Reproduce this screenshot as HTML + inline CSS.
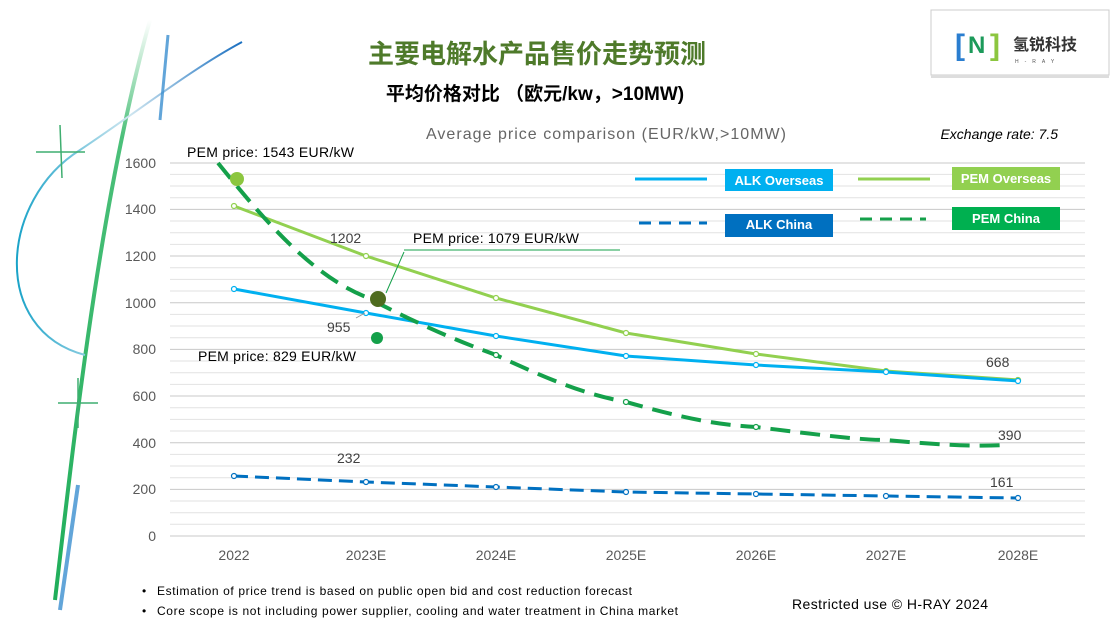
<!DOCTYPE html>
<html><head><meta charset="utf-8"><style>
body{margin:0;width:1111px;height:624px;background:#fff;overflow:hidden;font-family:"Liberation Sans","Noto Sans CJK SC",sans-serif}
</style></head><body>
<svg width="1111" height="624" viewBox="0 0 1111 624" xmlns="http://www.w3.org/2000/svg" font-family="Liberation Sans, Noto Sans CJK SC, sans-serif">
<defs>
<linearGradient id="g1" x1="0" y1="1" x2="0" y2="0"><stop offset="0" stop-color="#1fae5a"/><stop offset="0.8" stop-color="#4cc07a"/><stop offset="1" stop-color="#fff"/></linearGradient>
<linearGradient id="g2" x1="0" y1="0" x2="1" y2="0"><stop offset="0" stop-color="#1aa3c8"/><stop offset="0.5" stop-color="#cfe6f0"/><stop offset="1" stop-color="#1a6fc0"/></linearGradient>
</defs>
<!-- decoration -->
<path d="M55 600 C75 430 100 200 150 20" stroke="url(#g1)" stroke-width="4" fill="none"/>
<path d="M85 355 C-10 330 0 200 80 150 C140 110 190 70 242 42" stroke="url(#g2)" stroke-width="2" fill="none"/>
<path d="M160 120 L168 35" stroke="#3b8fd0" stroke-width="3" fill="none" opacity="0.8"/>
<path d="M78 485 L60 610" stroke="#3b8fd0" stroke-width="4" fill="none" opacity="0.8"/>
<path d="M60 125 L62 178 M36 152 L85 152" stroke="#3fae70" stroke-width="1.5"/>
<path d="M78 378 L78 428 M58 403 L98 403" stroke="#3fae70" stroke-width="1.5"/>
<!-- titles -->
<text x="537" y="63" text-anchor="middle" font-size="26" font-weight="bold" fill="#4e7a2a">主要电解水产品售价走势预测</text>
<text x="535" y="100" text-anchor="middle" font-size="19" font-weight="bold" fill="#000">平均价格对比 （欧元/kw，&gt;10MW)</text>
<text x="426" y="139" font-size="16" fill="#666" textLength="360">Average price comparison (EUR/kW,&gt;10MW)</text>
<text x="1058" y="139" text-anchor="end" font-size="14" font-style="italic" fill="#000">Exchange rate: 7.5</text>
<!-- logo -->
<rect x="931" y="10" width="178" height="65" fill="#fff" stroke="#ccc"/>
<rect x="931" y="75" width="178" height="3" fill="#ddd"/>
<text x="955" y="55" font-size="30" font-weight="bold" fill="#2a7ed0">[</text>
<text x="968" y="53" font-size="24" font-weight="bold" fill="#1c9a5a">N</text>
<text x="990" y="55" font-size="30" font-weight="bold" fill="#8cc63f">]</text>
<text x="1013" y="50" font-size="16" fill="#333" font-weight="bold">氢锐科技</text>
<text x="1015" y="63" font-size="5" fill="#555" letter-spacing="6">H-RAY</text>
<!-- grid -->
<g stroke="#e2e2e2" stroke-width="1">
<line x1="170" x2="1085" y1="524.3" y2="524.3"/><line x1="170" x2="1085" y1="512.7" y2="512.7"/><line x1="170" x2="1085" y1="501" y2="501"/><line x1="170" x2="1085" y1="477.7" y2="477.7"/><line x1="170" x2="1085" y1="466" y2="466"/><line x1="170" x2="1085" y1="454.4" y2="454.4"/><line x1="170" x2="1085" y1="431" y2="431"/><line x1="170" x2="1085" y1="419.4" y2="419.4"/><line x1="170" x2="1085" y1="407.7" y2="407.7"/><line x1="170" x2="1085" y1="384.4" y2="384.4"/><line x1="170" x2="1085" y1="372.7" y2="372.7"/><line x1="170" x2="1085" y1="361" y2="361"/><line x1="170" x2="1085" y1="337.7" y2="337.7"/><line x1="170" x2="1085" y1="326" y2="326"/><line x1="170" x2="1085" y1="314.4" y2="314.4"/><line x1="170" x2="1085" y1="291" y2="291"/><line x1="170" x2="1085" y1="279.4" y2="279.4"/><line x1="170" x2="1085" y1="267.7" y2="267.7"/><line x1="170" x2="1085" y1="244.4" y2="244.4"/><line x1="170" x2="1085" y1="232.7" y2="232.7"/><line x1="170" x2="1085" y1="221" y2="221"/><line x1="170" x2="1085" y1="197.7" y2="197.7"/><line x1="170" x2="1085" y1="186" y2="186"/><line x1="170" x2="1085" y1="174.4" y2="174.4"/>
</g>
<g stroke="#c8c8c8" stroke-width="1">
<line x1="170" x2="1085" y1="536" y2="536"/><line x1="170" x2="1085" y1="489.4" y2="489.4"/><line x1="170" x2="1085" y1="442.7" y2="442.7"/><line x1="170" x2="1085" y1="396" y2="396"/><line x1="170" x2="1085" y1="349.4" y2="349.4"/><line x1="170" x2="1085" y1="302.7" y2="302.7"/><line x1="170" x2="1085" y1="256" y2="256"/><line x1="170" x2="1085" y1="209.4" y2="209.4"/><line x1="170" x2="1085" y1="163" y2="163"/>
</g>
<g font-size="14" fill="#595959" text-anchor="end">
<text x="156" y="541">0</text><text x="156" y="494">200</text><text x="156" y="448">400</text><text x="156" y="401">600</text><text x="156" y="354">800</text><text x="156" y="308">1000</text><text x="156" y="261">1200</text><text x="156" y="214">1400</text><text x="156" y="168">1600</text>
</g>
<g font-size="14" fill="#595959" text-anchor="middle">
<text x="234" y="560">2022</text><text x="366" y="560">2023E</text><text x="496" y="560">2024E</text><text x="626" y="560">2025E</text><text x="756" y="560">2026E</text><text x="886" y="560">2027E</text><text x="1018" y="560">2028E</text>
</g>
<!-- series -->
<polyline points="234,206 366,256 496,298 626,333 756,354 886,371 1018,380" fill="none" stroke="#92d050" stroke-width="3"/>
<polyline points="234,289 366,313 496,336 626,356 756,365 886,372 1018,381" fill="none" stroke="#00b0f0" stroke-width="3"/>
<polyline points="234,476 366,482 496,487 626,492 756,494 886,496 1018,498" fill="none" stroke="#0070c0" stroke-width="3" stroke-dasharray="14,7"/>
<path d="M218 163 C260 215 310 275 366 297 C420 325 455 340 496 355 C560 385 590 395 626 402 C690 420 720 425 756 427 C820 435 860 440 886 440 C930 444 970 447 1005 445" fill="none" stroke="#14a04a" stroke-width="4" stroke-dasharray="20,10"/>
<g fill="#fff" stroke-width="1.2">
<g stroke="#92d050"><circle cx="234" cy="206" r="2.5"/><circle cx="366" cy="256" r="2.5"/><circle cx="496" cy="298" r="2.5"/><circle cx="626" cy="333" r="2.5"/><circle cx="756" cy="354" r="2.5"/><circle cx="886" cy="371" r="2.5"/><circle cx="1018" cy="380" r="2.5"/></g>
<g stroke="#00b0f0"><circle cx="234" cy="289" r="2.5"/><circle cx="366" cy="313" r="2.5"/><circle cx="496" cy="336" r="2.5"/><circle cx="626" cy="356" r="2.5"/><circle cx="756" cy="365" r="2.5"/><circle cx="886" cy="372" r="2.5"/><circle cx="1018" cy="381" r="2.5"/></g>
<g stroke="#0070c0"><circle cx="234" cy="476" r="2.5"/><circle cx="366" cy="482" r="2.5"/><circle cx="496" cy="487" r="2.5"/><circle cx="626" cy="492" r="2.5"/><circle cx="756" cy="494" r="2.5"/><circle cx="886" cy="496" r="2.5"/><circle cx="1018" cy="498" r="2.5"/></g>
<g stroke="#14a04a"><circle cx="496" cy="355" r="2.5"/><circle cx="626" cy="402" r="2.5"/><circle cx="756" cy="427" r="2.5"/></g>
</g>
<circle cx="237" cy="179" r="7" fill="#8cc63f"/>
<circle cx="378" cy="299" r="8" fill="#4e6b1e"/>
<circle cx="377" cy="338" r="6" fill="#14a04a"/>
<line x1="404" y1="252" x2="386" y2="293" stroke="#14a04a" stroke-width="1"/>
<polyline points="404,250 620,250" stroke="#14a04a" stroke-width="1" fill="none"/>
<line x1="356" y1="318" x2="365" y2="313" stroke="#999"/>
<g font-size="14" fill="#000">
<text x="187" y="157" textLength="167">PEM price: 1543 EUR/kW</text>
<text x="413" y="243" textLength="166">PEM price: 1079 EUR/kW</text>
<text x="198" y="361" textLength="158">PEM price: 829 EUR/kW</text>
</g>
<g font-size="14" fill="#404040">
<text x="330" y="243">1202</text><text x="327" y="332">955</text><text x="337" y="463">232</text><text x="986" y="367">668</text><text x="998" y="440">390</text><text x="990" y="487">161</text>
</g>
<!-- legend -->
<line x1="635" y1="179" x2="707" y2="179" stroke="#00b0f0" stroke-width="3"/>
<rect x="725" y="169" width="108" height="22" fill="#00b0f0"/><text x="779" y="185" text-anchor="middle" font-size="13" font-weight="bold" fill="#fff">ALK Overseas</text>
<line x1="858" y1="179" x2="930" y2="179" stroke="#92d050" stroke-width="3"/>
<rect x="952" y="167" width="108" height="23" fill="#92d050"/><text x="1006" y="183" text-anchor="middle" font-size="13" font-weight="bold" fill="#fff">PEM Overseas</text>
<line x1="639" y1="223" x2="707" y2="223" stroke="#0070c0" stroke-width="3" stroke-dasharray="12,8"/>
<rect x="725" y="214" width="108" height="23" fill="#0070c0"/><text x="779" y="229" text-anchor="middle" font-size="13" font-weight="bold" fill="#fff">ALK China</text>
<line x1="860" y1="219" x2="926" y2="219" stroke="#14a04a" stroke-width="3" stroke-dasharray="12,8"/>
<rect x="952" y="207" width="108" height="23" fill="#00b050"/><text x="1006" y="223" text-anchor="middle" font-size="13" font-weight="bold" fill="#fff">PEM China</text>
<!-- footnotes -->
<g font-size="12" fill="#000">
<text x="142" y="595">•</text><text x="157" y="595" textLength="475">Estimation of price trend is based on public open bid and cost reduction forecast</text>
<text x="142" y="615">•</text><text x="157" y="615" textLength="521">Core scope is not including power supplier, cooling and water treatment in China market</text>
</g>
<text x="792" y="609" font-size="14" fill="#000" textLength="196">Restricted use © H-RAY 2024</text>
</svg>
</body></html>
